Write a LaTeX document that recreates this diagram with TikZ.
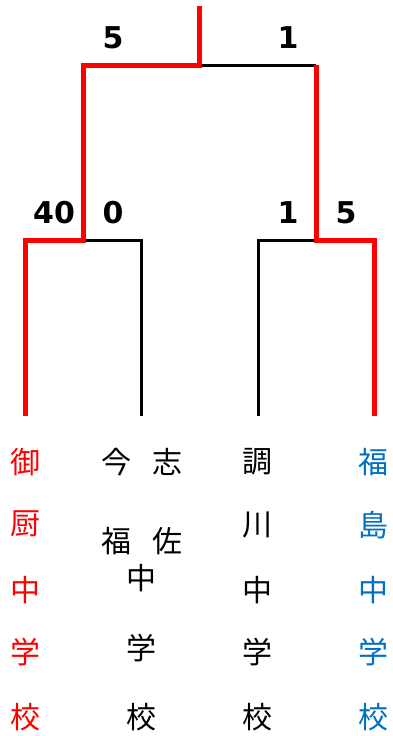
\documentclass[tikz,border=0pt]{standalone}
\usepackage{fontspec}
\newfontfamily\cjk{Noto Sans CJK JP}
\newfontfamily\scorefont{DejaVu Sans}
\definecolor{winred}{RGB}{255,0,0}
\definecolor{fukublue}{RGB}{0,112,192}

\begin{document}
\begin{tikzpicture}[x=1pt, y=-1pt]
		\tikzstyle{win}=[draw=winred, line width=5pt];
		\tikzstyle{lose}=[draw=black, line width=3pt];
		\tikzstyle{score}=[inner sep=0pt, font=\scorefont\bfseries\fontsize{30}{30}\selectfont];
		\tikzstyle{team}=[inner sep=0pt, font=\cjk\fontsize{30}{30}\selectfont];

		\useasboundingbox (0,0) rectangle (393,736);

		% bracket corners
		\coordinate (top) at (199,6);
		\coordinate (final) at (199,65);
		\coordinate (finalL) at (83,65);
		\coordinate (finalR) at (316,65);
		\coordinate (semiL) at (83,240);
		\coordinate (semiR) at (316,240);
		\coordinate (mikuriyaT) at (25,240);
		\coordinate (mikuriyaB) at (25,416);
		\coordinate (imafukuT) at (141,240);
		\coordinate (imafukuB) at (141,416);
		\coordinate (tsukiT) at (258,240);
		\coordinate (tsukiB) at (258,416);
		\coordinate (fukuT) at (374,240);
		\coordinate (fukuB) at (374,416);

		\draw[lose] (final) -- (finalR);
		\draw[lose] (semiL) -- (imafukuT) -- (imafukuB);
		\draw[lose] (tsukiB) -- (tsukiT) -- (semiR);
		\draw[win] (top) -- (final) -- (finalL) -- (semiL) -- (mikuriyaT) -- (mikuriyaB);
		\draw[win] (finalR) -- (semiR) -- (fukuT) -- (fukuB);

		% scores
		\node[score] (sFinalL) at (113,38) {5};
		\node[score] (sFinalR) at (288,38) {1};
		\node[score] (sMikuriya) at (54,213) {40};
		\node[score] (sImafuku) at (113,213) {0};
		\node[score] (sTsuki) at (288,213) {1};
		\node[score] (sFuku) at (346,213) {5};

		% schools
		\node[team, winred] (m1) at (25,462) {御};
		\node[team, winred] (m2) at (25,524) {厨};
		\node[team, winred] (m3) at (25,590) {中};
		\node[team, winred] (m4) at (25,652) {学};
		\node[team, winred] (m5) at (25,717) {校};

		\node[team] (i1) at (116,462) {今};
		\node[team] (i2) at (116,541) {福};
		\node[team] (s1) at (167,462) {志};
		\node[team] (s2) at (167,541) {佐};
		\node[team] (i3) at (141,578) {中};
		\node[team] (i4) at (141,648) {学};
		\node[team] (i5) at (141,717) {校};

		\node[team] (t1) at (257,462) {調};
		\node[team] (t2) at (257,525) {川};
		\node[team] (t3) at (257,590) {中};
		\node[team] (t4) at (257,652) {学};
		\node[team] (t5) at (257,717) {校};

		\node[team, fukublue] (f1) at (373,462) {福};
		\node[team, fukublue] (f2) at (373,525) {島};
		\node[team, fukublue] (f3) at (373,590) {中};
		\node[team, fukublue] (f4) at (373,652) {学};
		\node[team, fukublue] (f5) at (373,717) {校};
	\end{tikzpicture}
\end{document}
